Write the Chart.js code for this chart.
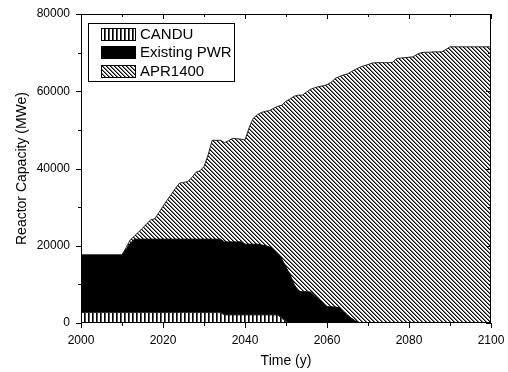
<!DOCTYPE html>
<html>
<head>
<meta charset="utf-8">
<script src="https://cdn.jsdelivr.net/npm/chart.js@4"></script>
<style>
  html, body { margin: 0; padding: 0; background: #fff; }
  #wrap { width: 508px; height: 372px; }
</style>
</head>
<body>
<div id="wrap"><canvas id="chart" width="508" height="372"></canvas></div>
<script>
const years = [
  2000, 2001, 2002, 2003, 2004, 2005, 2006, 2007, 2008, 2009,
  2010, 2011, 2012, 2013, 2014, 2015, 2016, 2017, 2018, 2019,
  2020, 2021, 2022, 2023, 2024, 2025, 2026, 2027, 2028, 2029,
  2030, 2031, 2032, 2033, 2034, 2035, 2036, 2037, 2038, 2039,
  2040, 2041, 2042, 2043, 2044, 2045, 2046, 2047, 2048, 2049,
  2050, 2051, 2052, 2053, 2054, 2055, 2056, 2057, 2058, 2059,
  2060, 2061, 2062, 2063, 2064, 2065, 2066, 2067, 2068, 2069,
  2070, 2071, 2072, 2073, 2074, 2075, 2076, 2077, 2078, 2079,
  2080, 2081, 2082, 2083, 2084, 2085, 2086, 2087, 2088, 2089,
  2090, 2091, 2092, 2093, 2094, 2095, 2096, 2097, 2098, 2099,
  2100,
];

// MWe per year, each series on its own (they get stacked)
const candu = [
  2700, 2700, 2700, 2700, 2700, 2700, 2700, 2700, 2700, 2700,
  2700, 2700, 2700, 2700, 2700, 2700, 2700, 2700, 2700, 2700,
  2700, 2700, 2700, 2700, 2700, 2700, 2700, 2700, 2700, 2700,
  2700, 2700, 2700, 2700, 2700, 2100, 2100, 2100, 2100, 2100,
  2100, 2100, 2100, 2100, 2100, 2100, 2100, 2100, 2100, 1200,
  400, 0, 0, 0, 0, 0, 0, 0, 0, 0,
  0, 0, 0, 0, 0, 0, 0, 0, 0, 0,
  0, 0, 0, 0, 0, 0, 0, 0, 0, 0,
  0, 0, 0, 0, 0, 0, 0, 0, 0, 0,
  0, 0, 0, 0, 0, 0, 0, 0, 0, 0,
  0,
];

const existingPwr = [
  14900, 14900, 14900, 14900, 14900, 14900, 14900, 14900, 14900, 14900,
  14900, 16300, 17900, 19000, 19000, 19000, 19000, 19000, 19000, 19000,
  19000, 19000, 19000, 19000, 19000, 19000, 19000, 19000, 19000, 19000,
  19000, 19000, 19000, 19000, 19000, 18900, 18900, 18900, 18900, 18900,
  18300, 18300, 18300, 18300, 18100, 17900, 17600, 16900, 15700, 15300,
  14100, 12500, 10000, 8200, 8100, 8100, 8000, 7000, 6000, 5000,
  4200, 4200, 4100, 4000, 3000, 2000, 1200, 500, 0, 0,
  0, 0, 0, 0, 0, 0, 0, 0, 0, 0,
  0, 0, 0, 0, 0, 0, 0, 0, 0, 0,
  0, 0, 0, 0, 0, 0, 0, 0, 0, 0,
  0,
];

const apr1400 = [
  0, 0, 0, 0, 0, 0, 0, 0, 0, 0,
  0, 500, 900, 800, 1800, 2800, 4000, 5000, 5300, 6900,
  8500, 10100, 11600, 13100, 14500, 14700, 14900, 15900, 17300, 17700,
  18800, 21800, 25600, 25600, 25600, 25700, 26200, 26800, 26700, 26600,
  27000, 30100, 32600, 33500, 34300, 34800, 35300, 36600, 38300, 39900,
  42900, 45500, 48700, 50800, 50900, 51700, 52500, 53900, 55200, 56400,
  57500, 58100, 59200, 59800, 61200, 62500, 63900, 65200, 66200, 66600,
  66900, 67300, 67400, 67400, 67400, 67400, 67500, 68500, 68600, 68700,
  68800, 68900, 69600, 70000, 70100, 70100, 70200, 70200, 70200, 70800,
  71500, 71500, 71500, 71500, 71500, 71500, 71500, 71500, 71500, 71500,
  71500,
];

const seriesNames = ["CANDU", "Existing PWR", "APR1400"];

const FONT = "'Liberation Sans', Arial, sans-serif";

// hatch fills
function verticalHatch() {
  const c = document.createElement("canvas");
  c.width = 4;
  c.height = 4;
  const g = c.getContext("2d");
  g.fillStyle = "#fff";
  g.fillRect(0, 0, 4, 4);
  g.fillStyle = "#000";
  g.fillRect(0, 0, 1, 4);
  g.fillStyle = "#555";
  g.fillRect(1, 0, 1, 4);
  return g.createPattern(c, "repeat");
}

function diagonalHatch() {
  const c = document.createElement("canvas");
  c.width = 4;
  c.height = 4;
  const g = c.getContext("2d");
  g.fillStyle = "#fff";
  g.fillRect(0, 0, 4, 4);
  for (let i = 0; i < 4; i++) {
    g.fillStyle = "#000";
    g.fillRect(i, i, 1, 1);
    g.fillStyle = "#777";
    g.fillRect((i + 1) % 4, i, 1, 1);
  }
  return g.createPattern(c, "repeat");
}

const ctx = document.getElementById("chart").getContext("2d");

// frame with Origin-style ticks: out on left/bottom, in on top/right
const frameTicks = {
  id: "frameTicks",
  afterDatasetsDraw(chart) {
    const { ctx, chartArea: a, scales } = chart;
    const xs = scales.x, ys = scales.y;
    ctx.save();
    ctx.strokeStyle = "#000";
    ctx.lineWidth = 1;
    ctx.beginPath();
    ctx.rect(a.left + 0.5, a.top + 0.5, a.right - a.left - 1, a.bottom - a.top - 1);
    const xt = xs.ticks.map((t) => t.value);
    for (let i = 0; i < xt.length; i++) {
      const px = Math.round(xs.getPixelForValue(xt[i])) + 0.5;
      ctx.moveTo(px, a.bottom); ctx.lineTo(px, a.bottom + 5);
      ctx.moveTo(px, a.top); ctx.lineTo(px, a.top + 5);
      if (i < xt.length - 1) {
        const mx = Math.round(xs.getPixelForValue((xt[i] + xt[i + 1]) / 2)) + 0.5;
        ctx.moveTo(mx, a.bottom); ctx.lineTo(mx, a.bottom + 3);
        ctx.moveTo(mx, a.top); ctx.lineTo(mx, a.top + 3);
      }
    }
    const yt = ys.ticks.map((t) => t.value);
    for (let i = 0; i < yt.length; i++) {
      const py = Math.round(ys.getPixelForValue(yt[i])) + 0.5;
      ctx.moveTo(a.left - 5, py); ctx.lineTo(a.left, py);
      ctx.moveTo(a.right, py); ctx.lineTo(a.right - 5, py);
      if (i < yt.length - 1) {
        const my = Math.round(ys.getPixelForValue((yt[i] + yt[i + 1]) / 2)) + 0.5;
        ctx.moveTo(a.left - 3, my); ctx.lineTo(a.left, my);
        ctx.moveTo(a.right, my); ctx.lineTo(a.right - 3, my);
      }
    }
    ctx.stroke();
    ctx.restore();
  },
  afterDraw(chart) {
    // legend box in the top-left corner of the plot
    const { ctx } = chart;
    const bx = 88, by = 23, bw = 146, bh = 58;
    ctx.save();
    ctx.fillStyle = "#fff";
    ctx.fillRect(bx, by, bw, bh);
    ctx.strokeStyle = "#000";
    ctx.lineWidth = 1;
    ctx.strokeRect(bx + 0.5, by + 0.5, bw, bh);
    ctx.font = "15px " + FONT;
    ctx.textBaseline = "middle";
    ctx.textAlign = "left";
    chart.data.datasets.forEach((ds, i) => {
      const cy = 33.5 + i * 18.7;
      ctx.fillStyle = ds.backgroundColor;
      ctx.fillRect(101, Math.round(cy - 6), 34, 12);
      ctx.strokeStyle = "#000";
      ctx.strokeRect(101.5, Math.round(cy - 6) + 0.5, 34, 12);
      ctx.fillStyle = "#000";
      ctx.fillText(ds.label, 140, cy + 1);
    });
    ctx.restore();
  },
};

const chart = new Chart(ctx, {
  type: "line",
  data: {
    labels: years,
    datasets: [
      {
        label: seriesNames[0],
        data: candu,
        backgroundColor: verticalHatch(),
        borderColor: "#222",
        borderWidth: 1,
        fill: "origin",
      },
      {
        label: seriesNames[1],
        data: existingPwr,
        backgroundColor: "#000",
        borderColor: "#000",
        borderWidth: 1,
        fill: "-1",
      },
      {
        label: seriesNames[2],
        data: apr1400,
        backgroundColor: diagonalHatch(),
        borderColor: "#222",
        borderWidth: 1,
        fill: "-1",
      },
    ],
  },
  options: {
    responsive: false,
    animation: false,
    layout: { padding: { left: 0, right: 17, top: 14, bottom: 0 } },
    elements: { point: { radius: 0 }, line: { tension: 0 } },
    plugins: { legend: { display: false }, tooltip: { enabled: false } },
    scales: {
      x: {
        type: "linear",
        min: 2000,
        max: 2100,
        grid: { display: false, drawTicks: false },
        border: { display: false },
        ticks: {
          stepSize: 20, padding: 10, color: "#000", maxRotation: 0,
          font: { family: FONT, size: 12 },
          callback: (v) => String(v),
        },
        title: { display: true, text: "Time (y)", color: "#000", font: { family: FONT, size: 14 }, padding: { bottom: 2 } },
        afterFit: (s) => {
          s.height = 49;
          s.paddingLeft = 0;
          s.paddingRight = 0;
        },
      },
      y: {
        stacked: true,
        min: 0,
        max: 80000,
        grid: { display: false, drawTicks: false },
        border: { display: false },
        ticks: {
          stepSize: 20000, padding: 11, color: "#000",
          font: { family: FONT, size: 12 },
          callback: (v) => String(v),
        },
        title: { display: true, text: "Reactor Capacity (MWe)", color: "#000", font: { family: FONT, size: 14 }, padding: { top: 14 } },
        afterFit: (s) => {
          s.width = 81;
          s.paddingTop = 0;
          s.paddingBottom = 0;
        },
      },
    },
  },
  plugins: [frameTicks],
});
</script>
</body>
</html>
